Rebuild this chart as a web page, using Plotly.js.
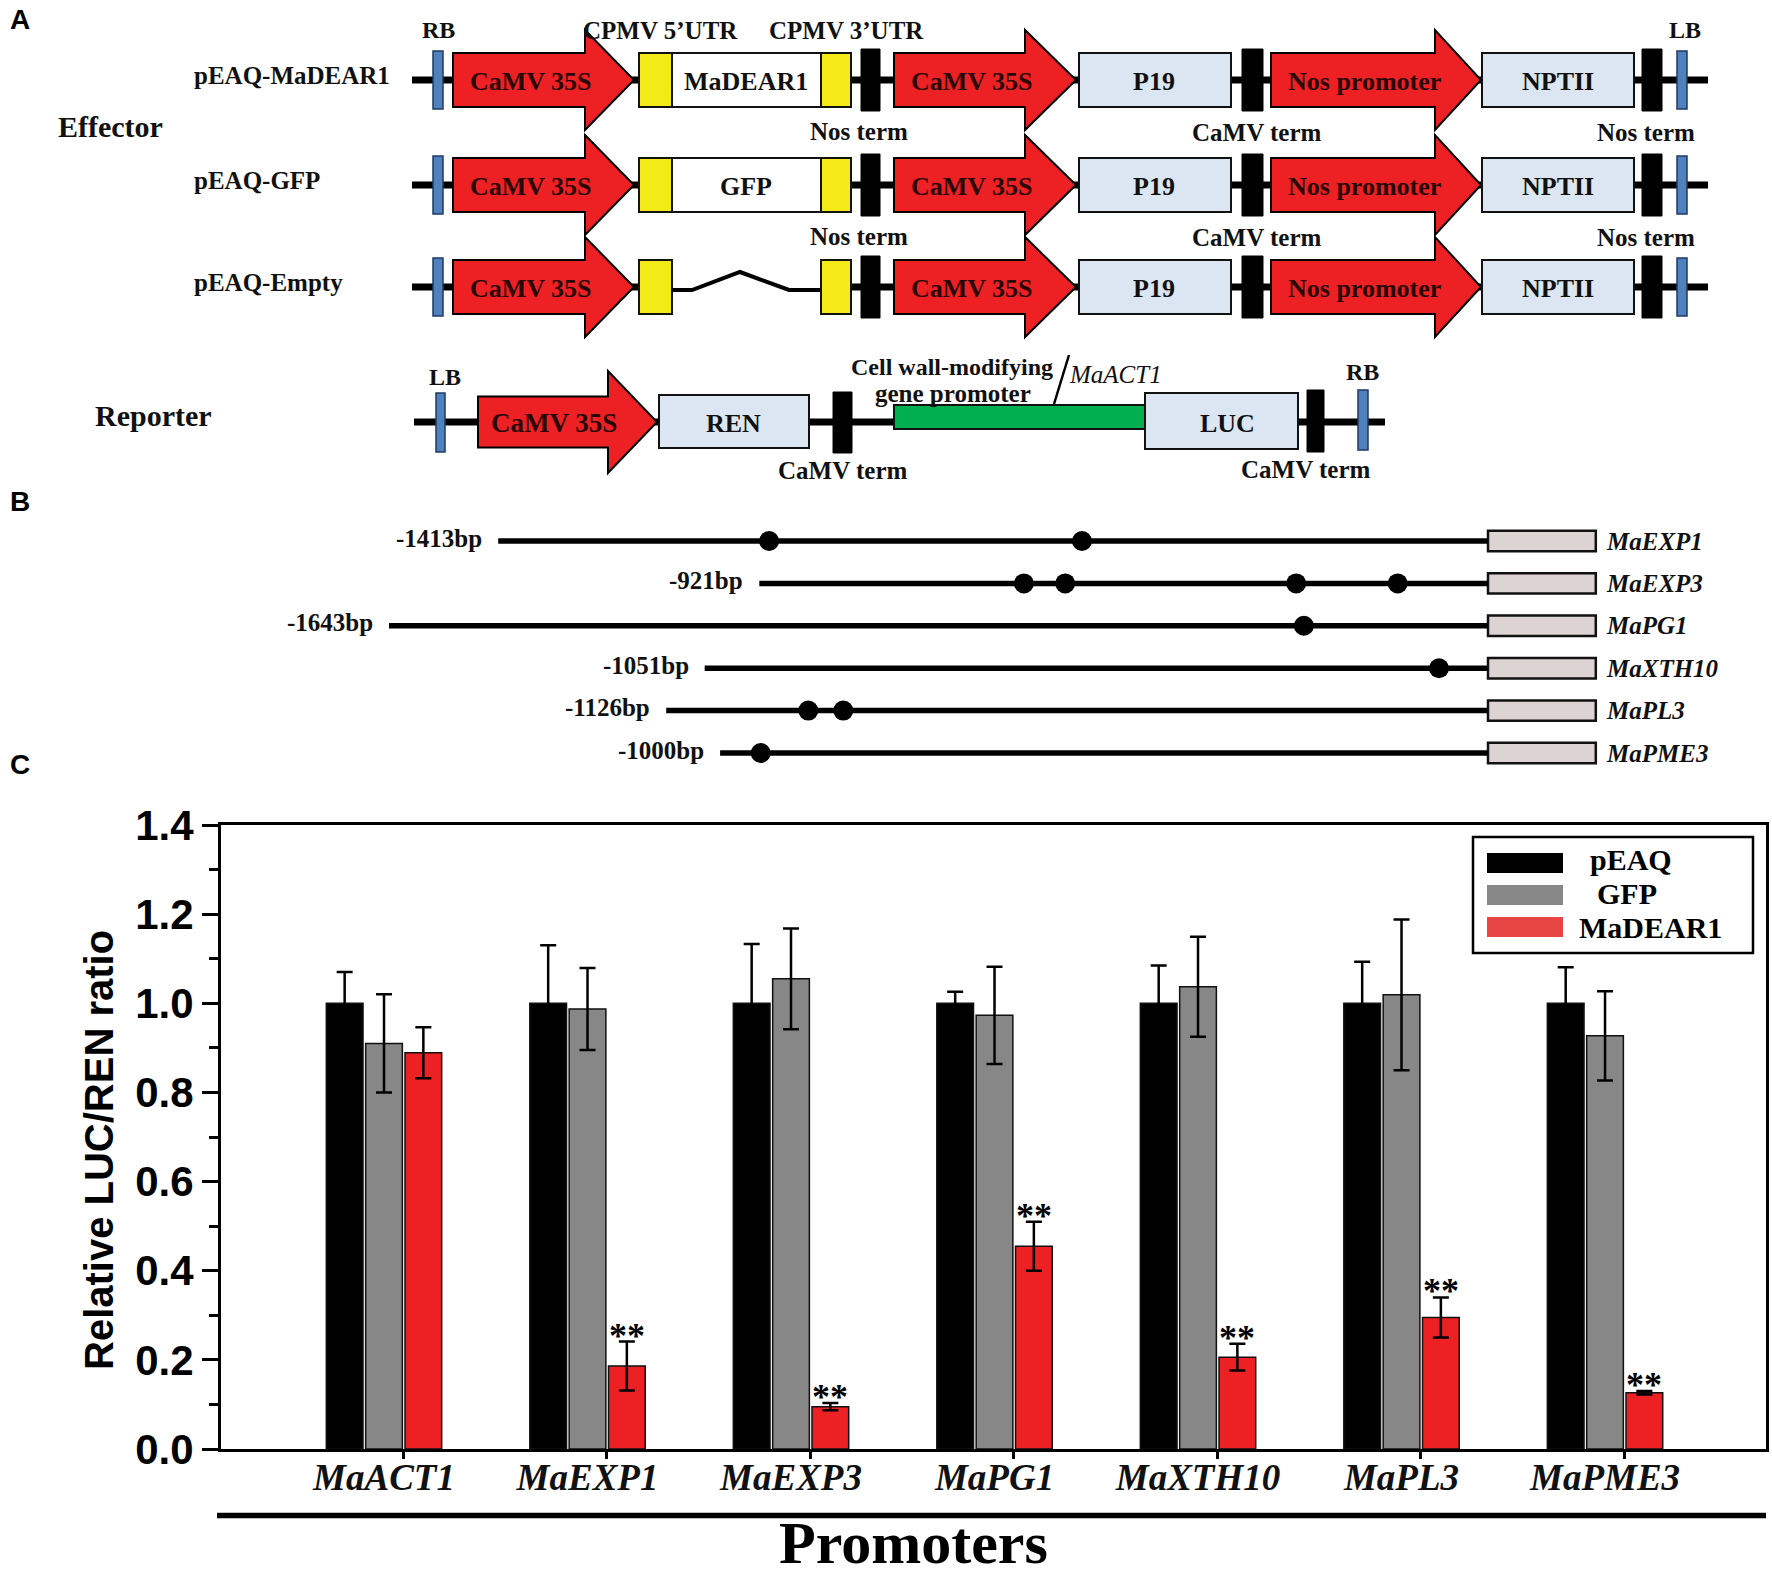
<!DOCTYPE html>
<html>
<head>
<meta charset="utf-8">
<script src="https://cdn.plot.ly/plotly-3.0.1.min.js"></script>
<style>html,body{margin:0;padding:0;background:#fff;}#chart{width:1772px;height:1577px;}</style>
</head>
<body>
<div id="chart"></div>
<script>
// ---------------- Panel C data ----------------
const categories = ['MaACT1','MaEXP1','MaEXP3','MaPG1','MaXTH10','MaPL3','MaPME3'];
const seriesNames = ['pEAQ','GFP','MaDEAR1'];
const pEAQ       = [1.000,1.000,1.000,1.000,1.000,1.000,1.000];
const pEAQErr    = [0.070,0.130,0.133,0.026,0.085,0.093,0.081];
const GFP        = [0.910,0.987,1.055,0.973,1.037,1.019,0.927];
const GFPErr     = [0.110,0.092,0.113,0.109,0.112,0.169,0.100];
const MaDEAR1    = [0.889,0.186,0.095,0.455,0.206,0.295,0.126];
const MaDEAR1Err = [0.057,0.055,0.008,0.055,0.030,0.045,0.004];
const signif     = ['','**','**','**','**','**','**'];
const yTicks     = [0,0.2,0.4,0.6,0.8,1.0,1.2,1.4];

// ---------------- Panel B data (schematic, not to scale) ----------------
const promoterGenes  = ['MaEXP1','MaEXP3','MaPG1','MaXTH10','MaPL3','MaPME3'];
const promoterLabels = ['-1413bp','-921bp','-1643bp','-1051bp','-1126bp','-1000bp'];
const promoterStart  = [-1414,-1041,-1570,-1119,-1174,-1097];
const elementSites   = [[-1027,-580],[-663,-604,-274,-129],[-263],[-70],[-971,-921],[-1039]];
const geneBoxLen     = [154,154,154,154,154,154];

// ---------------- Panel A constructs ----------------
const effectorRows = [
  {label:'pEAQ-MaDEAR1', insert:'MaDEAR1', yc:80},
  {label:'pEAQ-GFP',     insert:'GFP',     yc:185},
  {label:'pEAQ-Empty',   insert:null,      yc:287}
];

const W = 1772, H = 1577;
const RED = '#ED2024', YEL = '#F4EA17', LIGHT = '#DCE6F2', BLUE = '#4F81BD', GREEN = '#00B050';
const barColors = ['#000000','#878787','#ED2024'];
const legendColors = ['#000000','#878787','#E84545'];
const SERIF = 'Liberation Serif, Times New Roman, serif';
const SANS = 'Liberation Sans, Arial, sans-serif';

const shapes = [];
const annotations = [];

function hline(x0,x1,y,w){shapes.push({type:'line',xref:'x2',yref:'y2',x0:x0,x1:x1,y0:y,y1:y,line:{color:'#000',width:w}});}
function box(x0,x1,y0,y1,fill,lc,lw){shapes.push({type:'rect',xref:'x2',yref:'y2',x0:x0,x1:x1,y0:y0,y1:y1,fillcolor:fill,line:{color:lc,width:lw}});}
function arrow(x0,xh,xt,yc,bh,hh){
  const p = 'M'+x0+','+(yc-bh)+' L'+xh+','+(yc-bh)+' L'+xh+','+(yc-hh)+' L'+xt+','+yc+' L'+xh+','+(yc+hh)+' L'+xh+','+(yc+bh)+' L'+x0+','+(yc+bh)+' Z';
  shapes.push({type:'path',xref:'x2',yref:'y2',path:p,fillcolor:RED,line:{color:'#000',width:2}});
}
function txt(x,y,text,size,opt){
  opt = opt || {};
  annotations.push({xref:opt.xref||'x2',yref:opt.yref||'y2',x:x,y:y,text:text,showarrow:false,
    xanchor:opt.xanchor||'center',yanchor:opt.yanchor||'middle',textangle:opt.angle||0,
    xshift:opt.xshift||0,yshift:opt.yshift||0,
    font:{family:opt.family||SERIF,size:size,color:opt.color||'#111',weight:opt.weight||'bold',style:opt.style||'normal'}});
}

// ----- effector rows -----
effectorRows.forEach(function(r,i){
  const yc = r.yc;
  if (r.insert) { hline(412,1708,yc,7); } else { hline(412,645,yc,7); hline(845,1708,yc,7); }
  box(433,443,yc-29,yc+29,BLUE,'#1f3a63',1.5);
  arrow(453,585,634,yc,27,50);
  box(639,672,yc-27,yc+27,YEL,'#111',2);
  if (r.insert) {
    box(672,821,yc-27,yc+27,'#ffffff','#111',2);
  } else {
    shapes.push({type:'path',xref:'x2',yref:'y2',path:'M672,'+(yc+3)+' L692,'+(yc+3)+' L740,'+(yc-15)+' L789,'+(yc+3)+' L821,'+(yc+3),line:{color:'#000',width:4}});
  }
  box(821,851,yc-27,yc+27,YEL,'#111',2);
  box(861,880,yc-31,yc+31,'#000','#000',1);
  arrow(894,1025,1076,yc,27,50);
  box(1079,1231,yc-27,yc+27,LIGHT,'#111',2);
  box(1242,1263,yc-31,yc+31,'#000','#000',1);
  arrow(1271,1435,1481,yc,27,50);
  box(1482,1634,yc-27,yc+27,LIGHT,'#111',2);
  box(1642,1662,yc-31,yc+31,'#000','#000',1);
  box(1677,1687,yc-29,yc+29,BLUE,'#1f3a63',1.5);

  txt(192,yc-5,r.label,25,{xanchor:'left'});
  txt(531,yc+1,'CaMV 35S',26,{color:'#2a0606'});
  if (r.insert) txt(746,yc+1,r.insert,26);
  txt(972,yc+1,'CaMV 35S',26,{color:'#2a0606'});
  txt(1154,yc+1,'P19',26);
  txt(1364,yc+1,'Nos promoter',26,{color:'#2a0606'});
  txt(1558,yc+1,'NPTII',26);
  if (i < 2) {
    txt(859,yc+51,'Nos term',25);
    txt(1257,yc+52,'CaMV term',25);
    txt(1646,yc+52,'Nos term',25);
  }
});
txt(438,30,'RB',24);
txt(660,30,'CPMV 5\u2019UTR',25);
txt(846,30,'CPMV 3\u2019UTR',25);
txt(1685,30,'LB',24);
txt(110,126,'Effector',30);

// ----- reporter row -----
(function(){
  const yc = 422;
  hline(414,1385,yc,7);
  box(436,445,yc-29,yc+30,BLUE,'#1f3a63',1.5);
  arrow(478,608,657,yc,25.5,51);
  box(659,809,yc-27,yc+26,LIGHT,'#111',2);
  box(833,852,yc-30,yc+31,'#000','#000',1);
  box(894,1145,405,429,GREEN,'#111',2);
  box(1145,1298,yc-29,yc+27,LIGHT,'#111',2);
  box(1307,1324,yc-32,yc+30,'#000','#000',1);
  box(1358,1368,yc-32,yc+28,BLUE,'#1f3a63',1.5);
  shapes.push({type:'line',xref:'x2',yref:'y2',x0:1054,y0:404,x1:1069,y1:355,line:{color:'#000',width:2.5}});
  txt(153,415,'Reporter',30);
  txt(445,377,'LB',24);
  txt(1362,372,'RB',24);
  txt(554,yc+1,'CaMV 35S',27,{color:'#2a0606'});
  txt(733,yc+1,'REN',26);
  txt(1227,yc+1,'LUC',26);
  txt(843,470,'CaMV term',25);
  txt(1306,469,'CaMV term',25);
  txt(952,367,'Cell wall-modifying',24);
  txt(953,393,'gene promoter',25);
  txt(1115,374,'MaACT1',25,{weight:'normal',style:'italic'});
})();

// panel letters
txt(8/W,1-20/H,'A',28,{xref:'paper',yref:'paper',family:SANS,xanchor:'left',color:'#000'});
txt(8/W,1-501/H,'B',28,{xref:'paper',yref:'paper',family:SANS,xanchor:'left',color:'#000'});
txt(8/W,1-764/H,'C',28,{xref:'paper',yref:'paper',family:SANS,xanchor:'left',color:'#000'});

// ----- panel B annotations -----
promoterGenes.forEach(function(g,i){
  txt(promoterStart[i],i,promoterLabels[i],25,{xref:'x3',yref:'y3',xanchor:'right',xshift:-14,yshift:3});
  txt(geneBoxLen[i],i,g,25,{xref:'x3',yref:'y3',xanchor:'left',xshift:8,style:'italic'});
});

// ----- traces -----
const traces = [];
traces.push({type:'scatter',x:[],y:[],xaxis:'x2',yaxis:'y2',hoverinfo:'skip',showlegend:false});

// panel B: promoter lines
promoterGenes.forEach(function(g,i){
  traces.push({type:'scatter',mode:'lines',x:[promoterStart[i],0],y:[i,i],xaxis:'x3',yaxis:'y3',
    line:{color:'#000',width:5.5},hoverinfo:'skip',showlegend:false});
});
// panel B: gene boxes
traces.push({type:'bar',orientation:'h',base:promoterGenes.map(function(){return 0;}),x:geneBoxLen,
  y:promoterGenes.map(function(g,i){return i;}),width:0.48,xaxis:'x3',yaxis:'y3',
  marker:{color:'#DDD3D3',line:{color:'#111',width:2.5}},hoverinfo:'skip',showlegend:false});
// panel B: cis-element dots
const dotX = [], dotY = [];
elementSites.forEach(function(arr,i){ arr.forEach(function(v){ dotX.push(v); dotY.push(i); }); });
traces.push({type:'scatter',mode:'markers',x:dotX,y:dotY,xaxis:'x3',yaxis:'y3',
  marker:{color:'#000',size:20,symbol:'circle'},hoverinfo:'skip',showlegend:false});

// panel C bars
const xIdx = categories.map(function(c,i){return i;});
const vals = [pEAQ,GFP,MaDEAR1], errs = [pEAQErr,GFPErr,MaDEAR1Err];
seriesNames.forEach(function(n,k){
  traces.push({type:'bar',name:n,x:xIdx,y:vals[k],xaxis:'x',yaxis:'y',
    marker:{color:barColors[k],line:{color:'#111',width:1.5}},
    error_y:{type:'data',array:errs[k],visible:true,color:'#000',thickness:2.5,width:8},
    showlegend:false});
});
traces.push({type:'scatter',x:[],y:[],xaxis:'x4',yaxis:'y',hoverinfo:'skip',showlegend:false});

// significance stars above MaDEAR1 bars
const slot = (1-0.42)/3;
categories.forEach(function(c,i){
  if (signif[i]) {
    annotations.push({xref:'x',yref:'y',x:i+slot,y:MaDEAR1[i]+MaDEAR1Err[i],text:signif[i],showarrow:false,
      xanchor:'center',yanchor:'bottom',yshift:-16,font:{family:SERIF,size:36,weight:'bold',color:'#000'}});
  }
});

// axis titles
txt(99/W,1-1150/H,'Relative LUC/REN ratio',40,{xref:'paper',yref:'paper',family:SANS,angle:-90,color:'#000'});
txt(913/W,1-1543/H,'Promoters',60,{xref:'paper',yref:'paper',color:'#000'});
shapes.push({type:'line',xref:'paper',yref:'paper',x0:217/W,x1:1766/W,y0:1-1515.5/H,y1:1-1515.5/H,line:{color:'#000',width:5.5}});

// custom legend
shapes.push({type:'rect',xref:'paper',yref:'paper',x0:1473/W,x1:1753/W,y0:1-953/H,y1:1-837/H,fillcolor:'#fff',line:{color:'#000',width:2.5}});
const legTextX = [1588,1595,1577];
seriesNames.forEach(function(n,k){
  const yc = 863 + 32*k;
  shapes.push({type:'rect',xref:'paper',yref:'paper',x0:1487/W,x1:1563/W,y0:1-(yc+10)/H,y1:1-(yc-10)/H,fillcolor:legendColors[k],line:{width:0}});
  txt(legTextX[k]/W,1-(yc-4+2*k)/H,n,30,{xref:'paper',yref:'paper',xanchor:'left',color:'#000'});
});

const layout = {
  width:W, height:H, margin:{l:0,r:0,t:0,b:0},
  paper_bgcolor:'#fff', plot_bgcolor:'rgba(0,0,0,0)',
  showlegend:false, barmode:'group', bargap:0.42, bargroupgap:0.067,
  xaxis:{domain:[221/W,1766/W], range:[-0.801,6.791], anchor:'y', tickmode:'array', tickvals:xIdx, ticktext:categories,
    ticks:'', ticklabelstandoff:-6, showline:true, linewidth:3, linecolor:'#000', mirror:true,
    showgrid:false, zeroline:false, fixedrange:true,
    tickfont:{family:SERIF,size:37,weight:'bold',style:'italic',color:'#111'}},
  xaxis4:{overlaying:'x', anchor:'y', range:[-0.801,6.791], tickmode:'array', tickvals:xIdx.map(function(i){return i+0.0934;}),
    ticks:'outside', ticklen:9, tickwidth:3, tickcolor:'#000', showticklabels:false, showline:false, showgrid:false, zeroline:false, fixedrange:true},
  yaxis:{domain:[1-1449/H,1-825/H], range:[0,1.4], anchor:'x', tickmode:'array', tickvals:yTicks, ticktext:yTicks.map(function(v){return v.toFixed(1);}),
    ticks:'outside', ticklen:16, tickwidth:3, tickcolor:'#000', showline:true, linewidth:3, linecolor:'#000', mirror:true,
    minor:{tickmode:'array', tickvals:[0.1,0.3,0.5,0.7,0.9,1.1,1.3], ticks:'outside', ticklen:9, tickwidth:3, tickcolor:'#000', showgrid:false},
    showgrid:false, zeroline:false, fixedrange:true,
    tickfont:{family:SANS,size:42,weight:'bold',color:'#000'}},
  xaxis2:{domain:[0,1], range:[0,W], anchor:'y2', visible:false, fixedrange:true},
  yaxis2:{domain:[1-480/H,1], range:[480,0], anchor:'x2', visible:false, fixedrange:true},
  xaxis3:{domain:[0,1], range:[-1488/0.7,(W-1488)/0.7], anchor:'y3', visible:false, fixedrange:true},
  yaxis3:{domain:[1-774.2/H,1-519.8/H], range:[5.5,-0.5], anchor:'x3', visible:false, fixedrange:true},
  shapes:shapes, annotations:annotations
};

Plotly.newPlot('chart', traces, layout, {displayModeBar:false, staticPlot:true});
</script>
</body>
</html>
